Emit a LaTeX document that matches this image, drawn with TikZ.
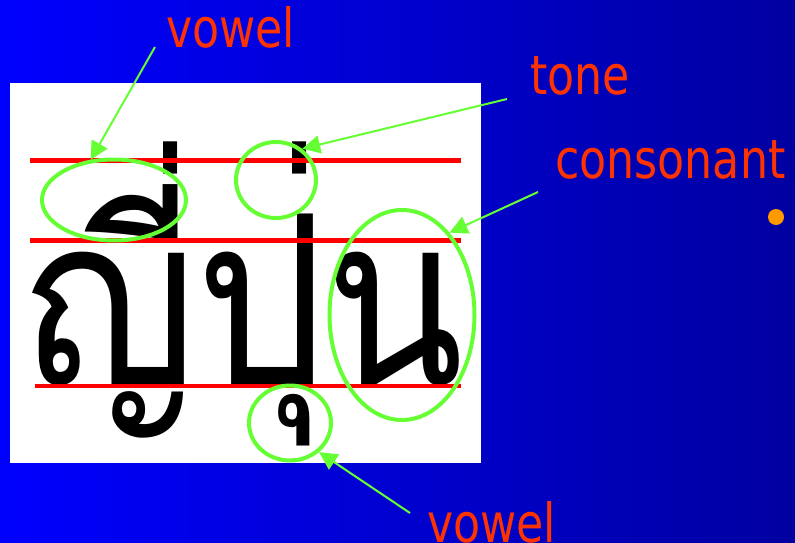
\documentclass[tikz,border=0pt]{standalone}
\usepackage{fontspec}
\newfontfamily\labelfont{DejaVu Sans}[FakeStretch=0.82]
\newfontfamily\thaifont[Script=Thai, RawFeature={-ccmp}]{Loma}
\usepackage{tikz}
\usetikzlibrary{shapes.geometric,arrows.meta,positioning}
\definecolor{bgleft}{HTML}{0000FF}
\definecolor{bgright}{HTML}{0000A0}
\definecolor{lblred}{HTML}{FF3300}
\definecolor{markgreen}{HTML}{66FF33}
\definecolor{dotorange}{HTML}{FF9900}

\begin{document}
\begin{tikzpicture}[
    x=1pt, y=-1pt,
    lbl/.style={text=lblred, font=\labelfont\fontsize{54}{60}\selectfont, inner sep=0pt, anchor=base west},
    ring/.style={draw=markgreen, line width=4pt, ellipse, inner sep=0pt},
    guide/.style={draw=red, line width=4.5pt},
    arr/.style={-{Triangle[length=18pt,width=18pt]}, draw=markgreen, line width=2pt},
  ]
    \useasboundingbox (0,0) rectangle (795,543);
    \clip (0,0) rectangle (795,543);
    \shade[left color=bgleft, right color=bgright] (0,0) rectangle (795,543);
    \fill[white] (10,83) rectangle (481,463);

    % the word
    \node[inner sep=0pt, anchor=base west] (word) at (23,384)
      {\scalebox{0.86}[1]{\thaifont\fontsize{236}{240}\selectfont ญี่ปุ่น}};

    % writing lines
    \draw[guide] (30,160.5) -- (461,160.5);
    \draw[guide] (30,240.5) -- (461,240.5);
    \draw[guide] (35,386) -- (461,386);

    % circled parts
    \node[ring, minimum width=144pt, minimum height=81pt] (ellV) at (114,200) {};
    \node[ring, minimum width=80pt, minimum height=76pt] (ellT) at (276,180) {};
    \node[ring, minimum width=145pt, minimum height=210pt] (ellC) at (402,315) {};
    \node[ring, minimum width=82pt, minimum height=75pt] (ellU) at (290,423) {};

    % labels
    \node[lbl] (lblV) at (166,48) {vowel};
    \node[lbl] (lblT) at (530,95) {tone};
    \node[lbl] (lblC) at (555,178) {consonant};
    \node[lbl] (lblU) at (427,542) {vowel};
    \fill[dotorange] (776,217) circle (8pt);

    \coordinate (fromV) at (155,47);
    \coordinate (fromT) at (507,99);
    \coordinate (fromC) at (538,192);
    \coordinate (fromU) at (410,513);
    \draw[arr] (fromV) -- (ellV.120);
    \draw[arr] (fromT) -- (ellT.50);
    \draw[arr] (fromC) -- (ellC.60);
    \draw[arr] (fromU) -- (ellU.-45);
  \end{tikzpicture}
\end{document}
